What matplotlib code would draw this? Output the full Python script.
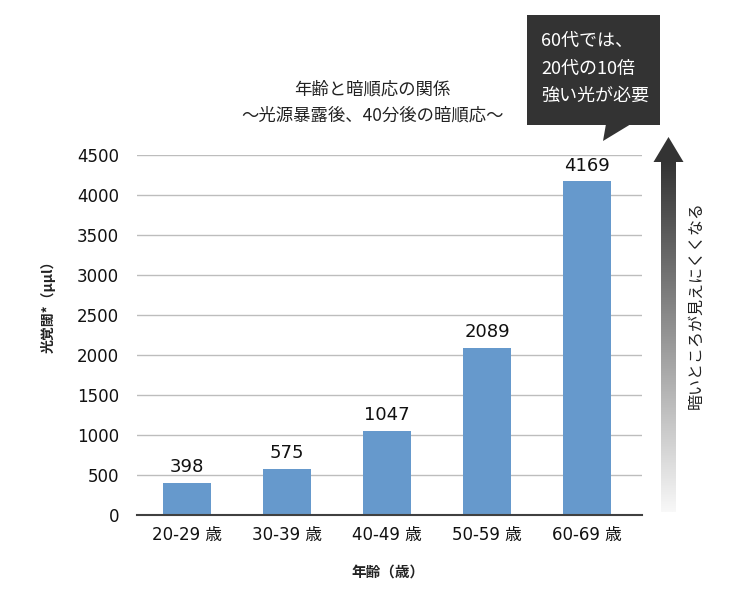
import numpy as np
import matplotlib
matplotlib.use("Agg")
import matplotlib.pyplot as plt
from matplotlib.patches import Polygon, Rectangle

plt.rcParams['font.family'] = ['Noto Sans CJK JP', 'DejaVu Sans']

categories = ["20-29 歳", "30-39 歳", "40-49 歳", "50-59 歳", "60-69 歳"]
values = [398, 575, 1047, 2089, 4169]
yticks = [0, 500, 1000, 1500, 2000, 2500, 3000, 3500, 4000, 4500]
title_lines = ["年齢と暗順応の関係", "〜光源暴露後、40分後の暗順応〜"]
callout_lines = ["60代では、", "20代の10倍", "強い光が必要"]
arrow_text = "暗いところが見えにくくなる"
ylabel = "光覚閾*（μμl）"
xlabel = "年齢（歳）"

W, H = 750, 600
fig = plt.figure(figsize=(7.5, 6), dpi=100)
ax = fig.add_axes([137 / W, 1 - 515 / H, (642 - 137) / W, (515 - 155) / H])

num_font = ['DejaVu Sans', 'Noto Sans CJK JP']
x = np.arange(len(categories))
ax.bar(x, values, width=0.48, color='#6699cc', zorder=3)
ax.set_xlim(-0.5, 4.55)
ax.set_ylim(0, 4500)
ax.set_yticks(yticks)
ax.set_yticklabels([str(v) for v in yticks], family=num_font, fontsize=12, color='#111111')
ax.set_xticks(x)
ax.set_xticklabels(categories, family=num_font, fontsize=12, color='#111111')
ax.tick_params(axis='both', length=0)
ax.tick_params(axis='y', pad=13)
ax.tick_params(axis='x', pad=8)
ax.yaxis.grid(True, color='#bdbdbd', linewidth=1, zorder=0)
for s in ['top', 'right', 'left']:
    ax.spines[s].set_visible(False)
ax.spines['bottom'].set_color('#404040')
ax.spines['bottom'].set_linewidth(1.5)
ax.spines['bottom'].set_zorder(4)

for xi, v in zip(x, values):
    ax.annotate(str(v), (xi, v), xytext=(0, 5), textcoords='offset points',
                ha='center', va='bottom', fontsize=13, family=num_font, color='#111111')

# overlay in pixel coordinates
ov = fig.add_axes([0, 0, 1, 1], zorder=10)
ov.axis('off')
ov.patch.set_alpha(0)

# titles and labels
ov.text(372, 90, title_lines[0], ha='center', va='center', fontsize=12.5, color='#222222')
ov.text(373, 116, title_lines[1], ha='center', va='center', fontsize=12.5, color='#222222')
ov.text(48, 303, ylabel, ha='center', va='center', rotation=90, fontsize=10,
        fontweight='bold', color='#222222')
ov.text(388, 572, xlabel, ha='center', va='center', fontsize=10.5,
        fontweight='bold', color='#222222')

# callout box
ov.add_patch(Rectangle((527, 15), 133, 110, facecolor='#333333', edgecolor='none'))
ov.add_patch(Polygon([(606, 124), (631, 124), (603, 141)], closed=True,
                     facecolor='#333333', edgecolor='none'))
for line, yy in zip(callout_lines, [41, 69, 96]):
    ov.text(541, yy, line, ha='left', va='center', fontsize=13, color='white')

# gradient arrow
shaft_top, shaft_bot = 161, 512
grad = np.linspace(0, 1, 256).reshape(-1, 1)
c_top = np.array([0x33, 0x33, 0x33]) / 255.0
c_bot = np.array([0xf8, 0xf8, 0xf8]) / 255.0
img = c_top[None, None, :] * (1 - grad[:, :, None]) + c_bot[None, None, :] * grad[:, :, None]
ov.imshow(img, extent=(661, 676, shaft_bot, shaft_top), aspect='auto', zorder=5,
          interpolation='bilinear')
ov.add_patch(Polygon([(668.5, 137), (683.5, 162), (653.5, 162)], closed=True,
                     facecolor='#333333', edgecolor='none', zorder=6))
ov.text(696, 305, arrow_text, ha='center', va='center', rotation=90, fontsize=11.5,
        color='#222222')
ov.set_xlim(0, W)
ov.set_ylim(H, 0)

fig.savefig('out.png', dpi=100)
